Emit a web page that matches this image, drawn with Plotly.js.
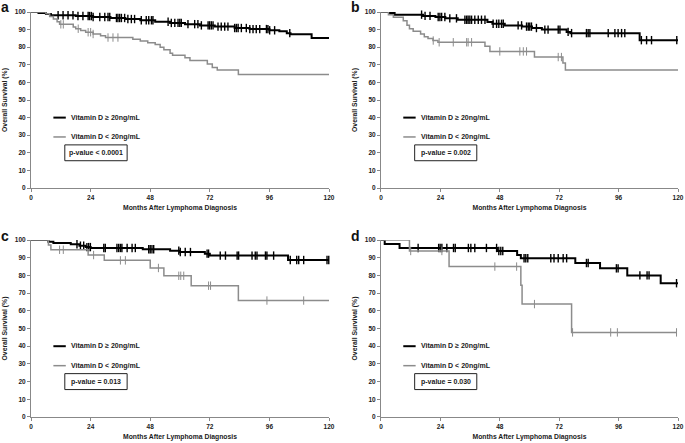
<!DOCTYPE html>
<html>
<head>
<meta charset="utf-8">
<script src="https://cdn.plot.ly/plotly-3.0.1.min.js"></script>
<style>
html, body { margin: 0; padding: 0; background: #fff; }
#plot { width: 685px; height: 443px; }
</style>
</head>
<body>
<div id="plot"></div>
<script>
// Panel a
var aHighTime = [0, 3, 6, 8, 18, 25, 32, 38, 44, 50, 56, 62, 68, 74, 82, 88, 96, 100, 103, 104.5, 113, 120];
var aHighSurv = [100, 99.5, 98.8, 98.2, 97.7, 97.2, 96.6, 96, 95.3, 94.5, 93.8, 93.1, 92.4, 91.7, 90.9, 90.3, 89.6, 89, 88, 87.3, 85.2, 85.2];
var aHighCens = [10.9, 12.9, 14.9, 16.9, 18.9, 20.9, 23, 23.6, 24.3, 25, 27.7, 29.7, 31, 31.7, 34.4, 35, 35.7, 36.4, 37.7, 39, 40.4, 41.7, 44.4, 46.4, 47.4, 48.5, 49.1, 55.2, 56.5, 57.9, 59.2, 59.9, 60.5, 63.2, 65.9, 67.2, 68.6, 71.3, 71.9, 72.6, 73.3, 75.3, 76.6, 78, 79.3, 82, 82.7, 83.4, 84.7, 86.7, 88.1, 89.4, 90.7, 92.1, 94.8, 95.4, 96.1, 98.1, 104.2];
var aLowTime = [0, 6, 7.5, 9, 10.5, 11.5, 17, 18, 20, 22, 25, 28, 30, 41, 44, 47, 50, 52, 53.5, 56, 57, 62, 64, 71, 73, 75, 83.5, 120];
var aLowSurv = [100, 99, 97.5, 96, 94.5, 93, 91.5, 90.5, 89.5, 88.5, 87.5, 86.5, 85.5, 84.5, 83.5, 82.5, 81.5, 80, 78.5, 76.5, 75.5, 74, 72.5, 70.5, 68.5, 67, 64.5, 64.5];
var aLowCens = [12, 13, 19, 23, 24, 25, 31, 33, 35];

// Panel b
var bHighTime = [0, 3.5, 5.5, 17, 22, 26, 31, 43, 45, 50, 57, 61, 65, 75, 76.5, 104.5, 120];
var bHighSurv = [100, 99.5, 98.5, 97.8, 97.2, 96.4, 95.6, 94.3, 93.3, 92.4, 91.7, 90.9, 90, 88.7, 88, 84, 84];
var bHighCens = [16.4, 17.8, 19.8, 23.1, 23.8, 24.5, 25.8, 27.8, 30.5, 33.9, 34.6, 35.2, 35.9, 36.6, 37.9, 39.3, 40.6, 42, 45.3, 46.7, 47.6, 48.7, 49.4, 55.4, 56.8, 58.8, 59.5, 60.1, 60.8, 62.8, 66.2, 67.5, 71.6, 72.3, 75.6, 77, 83, 83.7, 84.4, 91.8, 94.5, 95.8, 97.2, 98.5, 105.2, 107.3, 109.3, 119.5];
var bLowTime = [0, 3, 5, 9, 10.5, 11.5, 13, 16, 17.5, 19, 21, 23, 42, 44, 62, 73.5, 74.5, 120];
var bLowSurv = [100, 98.5, 97, 95, 92.5, 90.5, 89, 87.5, 86, 85, 83.8, 82.8, 80.5, 77.6, 74.4, 71, 67, 67];
var bLowCens = [21.1, 23.5, 29.2, 34.6, 35.2, 36.6, 48, 56.1, 57.5, 58.8, 71.6, 72.9];

// Panel c
var cHighTime = [0, 7, 9, 16, 19.5, 22, 24, 45, 56, 60, 70, 72, 103.5, 120];
var cHighSurv = [100, 99, 98.3, 97.6, 96.8, 96, 95.5, 94.8, 94, 93.2, 92.3, 91.2, 88.7, 88.7];
var cHighCens = [18.5, 19.9, 21.2, 22.5, 23.2, 23.9, 29.3, 29.9, 34.6, 35.3, 36, 36.6, 38.7, 40.7, 42, 47.4, 48, 48.7, 49.4, 59.5, 60.1, 62.1, 64.2, 70.9, 71.5, 76.2, 78.3, 83, 83.6, 89, 90.3, 91, 94.4, 95, 97.7, 104.4, 107, 107.8, 109.8, 119.2, 119.9];
var cLowTime = [0, 7, 8, 23, 29.5, 48, 53.5, 64.5, 83.5, 120];
var cLowSurv = [100, 97.2, 94.5, 91.5, 88.5, 84.2, 79.8, 74.2, 65.8, 65.8];
var cLowCens = [11.5, 13, 25.2, 36, 38, 51.3, 59.5, 60.3, 61.5, 71.5, 72.3, 95, 109.8];

// Panel d
var dHighTime = [0, 1.5, 7.5, 47, 55, 56.5, 78.5, 88.5, 99.5, 113, 120];
var dHighSurv = [100, 97.8, 95.5, 93.8, 91.5, 89.7, 87, 84, 80, 75.6, 75.6];
var dHighCens = [15, 23.3, 23.9, 24.6, 26.6, 29.3, 30, 35.3, 36.3, 37.9, 42.6, 46.7, 47.6, 48.4, 49.2, 57.8, 58.5, 59.3, 68.6, 69.9, 71.6, 73.6, 75, 83, 83.7, 95.1, 95.8, 104.6, 107.5, 108.3, 119.4];
var dLowTime = [0, 11.5, 27.5, 56.5, 57, 77, 119.5];
var dLowSurv = [100, 93.8, 85, 74.5, 63.8, 47.8, 47.8];
var dLowCens = [12, 24.6, 46, 54.8, 62, 77.4, 92.8, 95.5, 119.4];

var panelLetters = ["a", "b", "c", "d"];
var pValues = ["p-value < 0.0001", "p-value = 0.002", "p-value = 0.013", "p-value = 0.030"];
var seriesNames = ["Vitamin D \u2265 20ng/mL", "Vitamin D < 20ng/mL"];
var xTicks = [0, 24, 48, 72, 96, 120];
var yTicks = [0, 10, 20, 30, 40, 50, 60, 70, 80, 90, 100];

var panels = [
	{ high: [aHighTime, aHighSurv, aHighCens], low: [aLowTime, aLowSurv, aLowCens] },
	{ high: [bHighTime, bHighSurv, bHighCens], low: [bLowTime, bLowSurv, bLowCens] },
	{ high: [cHighTime, cHighSurv, cHighCens], low: [cLowTime, cLowSurv, cLowCens] },
	{ high: [dHighTime, dHighSurv, dHighCens], low: [dLowTime, dLowSurv, dLowCens] }
];

var black = "#000000";
var grey = "#8c8c8c";
var textColor = "#1a1a1a";
var fontFamily = "Liberation Sans, Arial, sans-serif";

// survival value at time t from a step curve
function survAt(times, surv, t) {
	var v = surv[0];
	for (var i = 0; i < times.length; i++) {
		if (times[i] <= t) v = surv[i];
	}
	return v;
}

var traces = [];
var shapes = [];
var annotations = [];

var xDomains = [[0.0453, 0.4803], [0.5562, 0.9898], [0.0453, 0.4803], [0.5562, 0.9898]];
var yDomains = [[0.5756, 0.9729], [0.5756, 0.9729], [0.0587, 0.4582], [0.0587, 0.4582]];
var letterPos = [[5, 7], [355, 7], [5, 236], [355, 236]];

var layout = {
	width: 685,
	height: 443,
	margin: { l: 0, r: 0, t: 0, b: 0 },
	paper_bgcolor: "#fff",
	plot_bgcolor: "#fff",
	showlegend: false,
	font: { family: fontFamily, size: 7, color: textColor },
	shapes: shapes,
	annotations: annotations
};

for (var p = 0; p < panels.length; p++) {
	var sfx = p === 0 ? "" : String(p + 1);
	var xr = "x" + sfx, yr = "y" + sfx;
	var groups = [[panels[p].high, black, 2, 1.4], [panels[p].low, grey, 1.5, 1]];

	for (var g = 0; g < groups.length; g++) {
		var d = groups[g][0];
		traces.push({
			x: d[0], y: d[1], xaxis: xr, yaxis: yr,
			type: "scatter", mode: "lines",
			line: { shape: "hv", color: groups[g][1], width: groups[g][2] },
			cliponaxis: false, hoverinfo: "skip"
		});
		traces.push({
			x: d[2], y: d[2].map(function (t) { return survAt(d[0], d[1], t); }),
			xaxis: xr, yaxis: yr,
			type: "scatter", mode: "markers",
			marker: { symbol: "line-ns-open", size: 6, color: groups[g][1], line: { color: groups[g][1], width: groups[g][3] } },
			cliponaxis: false, hoverinfo: "skip"
		});
	}

	layout["xaxis" + sfx] = {
		domain: xDomains[p], anchor: yr, range: [0, 120],
		tickvals: xTicks, ticks: "outside", ticklen: 3, tickcolor: "#888",
		showline: true, linecolor: "#888", linewidth: 1,
		showgrid: false, zeroline: false, fixedrange: true,
		tickfont: { family: fontFamily, size: 6.5, color: textColor, weight: "bold" },
		title: { text: "Months After Lymphoma Diagnosis", standoff: 5, font: { family: fontFamily, size: 6.8, color: textColor, weight: "bold" } }
	};
	layout["yaxis" + sfx] = {
		domain: yDomains[p], anchor: xr, range: [0, 100],
		tickvals: yTicks, ticks: "outside", ticklen: 3, tickcolor: "#888",
		showline: true, linecolor: "#888", linewidth: 1,
		showgrid: false, zeroline: false, fixedrange: true,
		tickfont: { family: fontFamily, size: 6.5, color: textColor, weight: "bold" },
		title: { text: "Overall Survival (%)", font: { family: fontFamily, size: 6.8, color: textColor, weight: "bold" } }
	};

	// legend samples, labels and p-value box
	shapes.push({ type: "line", xref: xr, yref: yr, x0: 9, x1: 14, y0: 40, y1: 40, line: { color: black, width: 2 } });
	shapes.push({ type: "line", xref: xr, yref: yr, x0: 9, x1: 14, y0: 29, y1: 29, line: { color: grey, width: 1.5 } });
	shapes.push({ type: "rect", xref: xr, yref: yr, x0: 13.6, x1: 38.7, y0: 15.5, y1: 24.5, line: { color: "#222", width: 1 }, fillcolor: "rgba(0,0,0,0)" });
	annotations.push({ xref: xr, yref: yr, x: 15.4, y: 40, text: seriesNames[0], showarrow: false, xanchor: "left", yanchor: "middle", font: { family: fontFamily, size: 7, color: textColor, weight: "bold" } });
	annotations.push({ xref: xr, yref: yr, x: 15.4, y: 29, text: seriesNames[1], showarrow: false, xanchor: "left", yanchor: "middle", font: { family: fontFamily, size: 7, color: textColor, weight: "bold" } });
	annotations.push({ xref: xr, yref: yr, x: 26.15, y: 20, text: pValues[p], showarrow: false, xanchor: "center", yanchor: "middle", font: { family: fontFamily, size: 7, color: textColor, weight: "bold" } });

	annotations.push({
		xref: "paper", yref: "paper",
		x: letterPos[p][0] / 685, y: 1 - letterPos[p][1] / 443,
		text: panelLetters[p], showarrow: false, xanchor: "center", yanchor: "middle",
		font: { family: fontFamily, size: 14, color: "#111", weight: "bold" }
	});
}

Plotly.newPlot("plot", traces, layout, { displayModeBar: false, staticPlot: true });
</script>
</body>
</html>
